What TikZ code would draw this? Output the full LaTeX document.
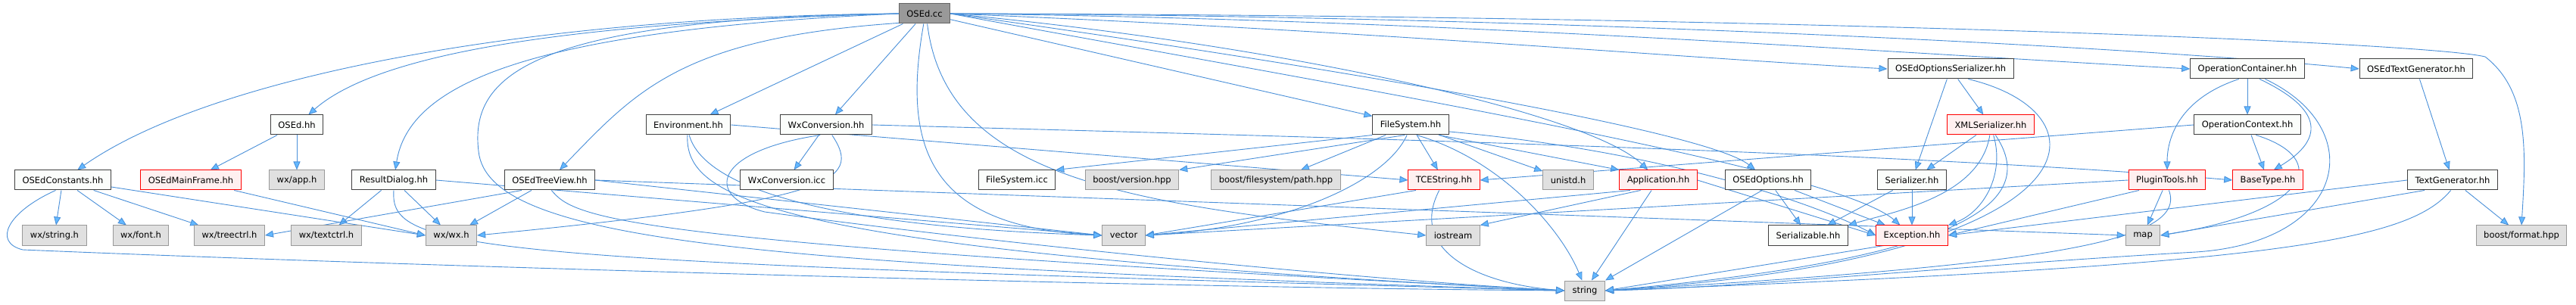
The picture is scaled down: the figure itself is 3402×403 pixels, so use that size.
\documentclass[tikz,border=0pt]{standalone}
\usepackage{fontspec}
\setmainfont{DejaVu Sans}
\usetikzlibrary{arrows.meta}
\pgfdeclarelayer{edges}
\pgfsetlayers{edges,main}
\definecolor{edgeblue}{HTML}{4A90D9}
\definecolor{tipblue}{HTML}{63B8FF}
\definecolor{boxline}{HTML}{404040}
\definecolor{boxfill}{HTML}{FBFDFB}
\definecolor{extline}{HTML}{999999}
\definecolor{extfill}{HTML}{E0E0E0}
\definecolor{cutfill}{HTML}{FFF0F0}
\definecolor{rootfill}{HTML}{999999}
\definecolor{rootline}{HTML}{666666}
\tikzset{
  file/.style={draw=boxline, fill=boxfill, line width=1pt, inner xsep=10pt, inner ysep=0pt, minimum height=26pt, font=\fontsize{11.5}{14}\selectfont},
  sysfile/.style={file, draw=extline, fill=extfill},
  cutfile/.style={file, draw=red, fill=cutfill},
  rootfile/.style={file, draw=rootline, fill=rootfill},
  dep/.style={draw=edgeblue, line width=0.9pt, -{Triangle[length=11pt,width=9pt,fill=tipblue]}}
}
\begin{document}
\begin{tikzpicture}[x=1pt, y=-1pt]
  \useasboundingbox (0,0) rectangle (3402,403);
  \node[rootfile] (root) at (1221,18) {OSEd.cc};
  \node[file] (optser) at (2576,91) {OSEdOptionsSerializer.hh};
  \node[file] (opcont) at (2968,91) {OperationContainer.hh};
  \node[file] (textgen) at (3191,91) {OSEdTextGenerator.hh};
  \node[file] (osedhh) at (392,165) {OSEd.hh};
  \node[file] (env) at (909,165) {Environment.hh};
  \node[file] (wxconv) at (1091,165) {WxConversion.hh};
  \node[file] (fs) at (1863,165) {FileSystem.hh};
  \node[cutfile] (xmlser) at (2629,165) {XMLSerializer.hh};
  \node[file] (opctx) at (2968,165) {OperationContext.hh};
  \node[file] (consts) at (83,238) {OSEdConstants.hh};
  \node[cutfile] (mainframe) at (252,238) {OSEdMainFrame.hh};
  \node[sysfile] (wxapp) at (392,238) {wx/app.h};
  \node[file] (resdlg) at (520,238) {ResultDialog.hh};
  \node[file] (treeview) at (726,238) {OSEdTreeView.hh};
  \node[file] (wxicc) at (1039,238) {WxConversion.icc};
  \node[file] (fsicc) at (1343,238) {FileSystem.icc};
  \node[sysfile] (boostver) at (1495,238) {boost/version.hpp};
  \node[sysfile] (boostpath) at (1685,238) {boost/filesystem/path.hpp};
  \node[cutfile] (tcestr) at (1907,238) {TCEString.hh};
  \node[sysfile] (unistd) at (2071,238) {unistd.h};
  \node[cutfile] (app) at (2190,238) {Application.hh};
  \node[file] (options) at (2335,238) {OSEdOptions.hh};
  \node[file] (serializer) at (2525,238) {Serializer.hh};
  \node[cutfile] (plugin) at (2862,238) {PluginTools.hh};
  \node[cutfile] (basetype) at (2995,238) {BaseType.hh};
  \node[file] (tgen) at (3239,238) {TextGenerator.hh};
  \node[sysfile] (wxstring) at (72,311) {wx/string.h};
  \node[sysfile] (wxfont) at (186,311) {wx/font.h};
  \node[sysfile] (treectrl) at (303,311) {wx/treectrl.h};
  \node[sysfile] (textctrl) at (431,311) {wx/textctrl.h};
  \node[sysfile] (wxwx) at (596,311) {wx/wx.h};
  \node[sysfile] (vector) at (1484,311) {vector};
  \node[sysfile] (iostream) at (1919,311) {iostream};
  \node[file] (serializable) at (2388,311) {Serializable.hh};
  \node[cutfile] (exception) at (2525,311) {Exception.hh};
  \node[sysfile] (map) at (2830,311) {map};
  \node[sysfile] (format) at (3330,311) {boost/format.hpp};
  \node[sysfile] (string) at (2093,384) {string};
  \begin{pgfonlayer}{edges}
  \fill[white] (0,0) rectangle (3402,403);
  \draw[dep] (root.west) .. controls (700,22) and (280,100) .. (consts);
  \draw[dep] (root.west) .. controls (750,30) and (500,70) .. (osedhh);
  \draw[dep] (root.west) .. controls (700,40) and (540,110) .. (resdlg);
  \draw[dep] (root.200) .. controls (900,50) and (840,120) .. (treeview);
  \draw[dep] (root) -- (env);
  \draw[dep] (root) -- (wxconv);
  \draw[dep] (root.west) .. controls (700,25) and (620,100) .. (632,200) .. controls (645,320) and (1000,350) .. (string.west);
  \draw[dep] (root.265) .. controls (1190,200) and (1230,300) .. (vector.west);
  \draw[dep] (root.285) .. controls (1250,240) and (1500,270) .. (iostream.west);
  \draw[dep] (root) -- (fs);
  \draw[dep] (root.east) .. controls (1700,60) and (2100,150) .. (app);
  \draw[dep] (root.east) .. controls (1700,80) and (2250,170) .. (options);
  \draw[dep] (root.east) .. controls (1750,110) and (2420,220) .. (exception);
  \draw[dep] (root.east) .. controls (1800,40) and (2200,75) .. (optser.west);
  \draw[dep] (root.east) .. controls (1900,25) and (2500,70) .. (opcont.west);
  \draw[dep] (root.east) .. controls (2000,20) and (2800,60) .. (textgen.west);
  \draw[dep] (root.east) .. controls (2300,20) and (3200,55) .. (3282,75) .. controls (3340,120) and (3336,200) .. (format.north);
  \draw[dep] (osedhh) -- (mainframe);
  \draw[dep] (osedhh) -- (wxapp);
  \draw[dep] (consts) -- (wxstring);
  \draw[dep] (consts) -- (wxfont);
  \draw[dep] (consts) -- (treectrl);
  \draw[dep] (consts.-8) -- (wxwx.west);
  \draw[dep] (consts.235) .. controls (10,280) and (-10,320) .. (30,330) .. controls (500,350) and (1500,380) .. (string.west);
  \draw[dep] (mainframe) -- (wxwx.west);
  \draw[dep] (resdlg) -- (textctrl);
  \draw[dep] (resdlg) -- (wxwx);
  \draw[dep] (resdlg.south) .. controls (515,330) and (600,345) .. (string.west);
  \draw[dep] (resdlg.east) -- (vector.west);
  \draw[dep] (treeview) -- (wxwx);
  \draw[dep] (treeview.200) -- (treectrl.east);
  \draw[dep] (treeview.-80) .. controls (760,290) and (820,320) .. (string.west);
  \draw[dep] (treeview.east) -- (vector.west);
  \draw[dep] (treeview.east) -- (map.west);
  \draw[dep] (env.east) -- (tcestr.west);
  \draw[dep] (env.-85) .. controls (930,250) and (1100,300) .. (vector.west);
  \draw[dep] (env.-95) .. controls (905,260) and (1000,330) .. (string.west);
  \draw[dep] (wxconv) -- (wxicc);
  \draw[dep] (wxconv.-60) .. controls (1140,240) and (1100,265) .. (wxwx.east);
  \draw[dep] (wxconv.-120) .. controls (940,200) and (930,260) .. (1010,280) .. controls (1300,320) and (1800,370) .. (string.west);
  \draw[dep] (wxconv.east) .. controls (1700,180) and (2500,200) .. (basetype.west);
  \draw[dep] (fs.south west) -- (fsicc.north east);
  \draw[dep] (fs.-120) -- (boostver.north east);
  \draw[dep] (fs) -- (boostpath);
  \draw[dep] (fs) -- (tcestr);
  \draw[dep] (fs) -- (unistd);
  \draw[dep] (fs.-20) -- (app.north west);
  \draw[dep] (fs.-60) .. controls (1980,210) and (2060,300) .. (string.105);
  \draw[dep] (fs.-110) .. controls (1830,240) and (1700,300) .. (vector.east);
  \draw[dep] (fs.-10) .. controls (2200,200) and (2400,270) .. (exception.west);
  \draw[dep] (tcestr.-115) .. controls (1860,330) and (1950,375) .. (string.west);
  \draw[dep] (tcestr.200) -- (vector.east);
  \draw[dep] (app.-150) -- (iostream.north east);
  \draw[dep] (app) -- (string);
  \draw[dep] (app.200) -- (vector.east);
  \draw[dep] (app.east) -- (exception.west);
  \draw[dep] (options) -- (serializable);
  \draw[dep] (options) -- (exception);
  \draw[dep] (options.-120) -- (string.north east);
  \draw[dep] (serializer) -- (exception);
  \draw[dep] (serializer) -- (serializable);
  \draw[dep] (xmlser) -- (serializer);
  \draw[dep] (xmlser.-75) .. controls (2648,230) and (2620,280) .. (exception.north east);
  \draw[dep] (xmlser.-65) .. controls (2690,260) and (2620,340) .. (string.east);
  \draw[dep] (xmlser.-95) .. controls (2615,260) and (2500,280) .. (serializable.north east);
  \draw[dep] (optser) -- (xmlser);
  \draw[dep] (optser) -- (serializer);
  \draw[dep] (optser.-30) .. controls (2790,150) and (2780,340) .. (string.east);
  \draw[dep] (opcont) -- (opctx);
  \draw[dep] (opcont.-130) .. controls (2880,130) and (2862,180) .. (plugin.north);
  \draw[dep] (opcont.-40) .. controls (3080,150) and (3060,190) .. (basetype.60);
  \draw[dep] (opcont.-30) .. controls (3130,170) and (3100,320) .. (2900,333) .. controls (2600,350) and (2300,380) .. (string.east);
  \draw[dep] (opctx) -- (basetype);
  \draw[dep] (opctx.-50) .. controls (3080,210) and (3050,280) .. (map.east);
  \draw[dep] (opctx.west) -- (tcestr.east);
  \draw[dep] (plugin) -- (map);
  \draw[dep] (plugin.-80) .. controls (2890,320) and (2700,350) .. (string.east);
  \draw[dep] (plugin.200) -- (exception.east);
  \draw[dep] (plugin.west) -- (vector.east);
  \draw[dep] (tgen) -- (format);
  \draw[dep] (tgen.-100) .. controls (3180,320) and (3000,350) .. (string.east);
  \draw[dep] (tgen.200) -- (map.east);
  \draw[dep] (tgen.west) -- (exception.east);
  \draw[dep] (textgen) -- (tgen);
  \draw[dep] (exception.200) -- (string.east);
  \end{pgfonlayer}
\end{tikzpicture}
\end{document}
